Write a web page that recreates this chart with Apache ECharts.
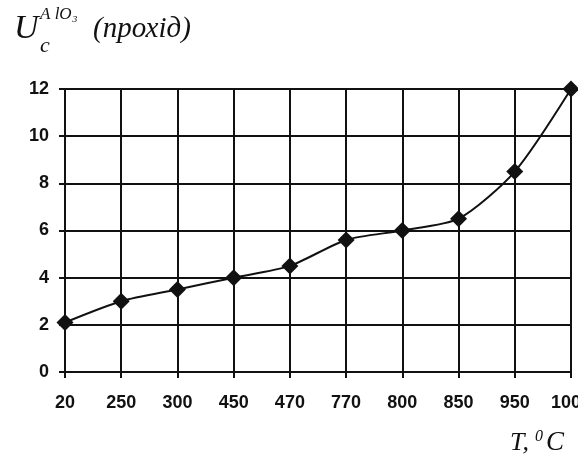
<!DOCTYPE html>
<html lang="uk">
<head>
<meta charset="UTF-8">
<title>Uc AlO3 (прохід)</title>
<script src="https://cdn.jsdelivr.net/npm/echarts@6/dist/echarts.min.js"></script>
<style>
  html, body { margin: 0; padding: 0; background: #fff; }
  #main { width: 578px; height: 462px; }
</style>
</head>
<body>
<div id="main"></div>
<script>
// температура, °C
const temps = ['20', '250', '300', '450', '470', '770', '800', '850', '950', '1000'];
// Uc AlO3 (прохід)
const values = [2.1, 3.0, 3.5, 4.0, 4.5, 5.6, 6.0, 6.5, 8.5, 12.0];
const yTicks = [0, 2, 4, 6, 8, 10, 12];

const ink = '#111';
const serif = '"Liberation Serif", "DejaVu Serif", serif';
const sans = '"Liberation Sans", Arial, sans-serif';

let chart = echarts.init(document.getElementById('main'));

let option = {
  backgroundColor: '#fff',
  animation: false,
  grid: { left: 65, right: 7, top: 89, bottom: 90, outerBoundsMode: 'none', containLabel: false },
  // підпис осі Y: U_c^{AlO3} (прохід), та осі X: T, °C
  graphic: [
    { type: 'text', left: 14, top: 12, style: { text: 'U', font: 'italic 34px ' + serif, fill: ink } },
    { type: 'text', left: 40, top: 6, style: { text: 'A lO₃', font: 'italic 17px ' + serif, fill: ink } },
    { type: 'text', left: 40, top: 35, style: { text: 'c', font: 'italic 22px ' + serif, fill: ink } },
    { type: 'text', left: 93, top: 15, style: { text: '(прохід)', font: 'italic 29px ' + serif, fill: ink } },
    { type: 'text', left: 510, top: 430, style: { text: 'T,', font: 'italic 26px ' + serif, fill: ink } },
    { type: 'text', left: 535, top: 429, style: { text: '0', font: 'italic 16px ' + serif, fill: ink } },
    { type: 'text', left: 546, top: 429, style: { text: 'C', font: 'italic 27px ' + serif, fill: ink } }
  ],
  xAxis: {
    type: 'category',
    data: temps,
    boundaryGap: false,
    axisLine: { lineStyle: { color: ink, width: 2 } },
    axisTick: { show: true, length: 6, inside: false, lineStyle: { color: ink, width: 2 } },
    axisLabel: { color: ink, fontSize: 18, fontWeight: 'bold', fontFamily: sans, margin: 22, interval: 0, hideOverlap: false },
    splitLine: { show: true, lineStyle: { color: ink, width: 2 } }
  },
  yAxis: {
    type: 'value',
    min: yTicks[0],
    max: yTicks[yTicks.length - 1],
    interval: 2,
    axisLine: { show: true, lineStyle: { color: ink, width: 2 } },
    axisTick: { show: true, length: 6, lineStyle: { color: ink, width: 2 } },
    axisLabel: { color: ink, fontSize: 18, fontWeight: 'bold', fontFamily: sans, margin: 16 },
    splitLine: { show: true, lineStyle: { color: ink, width: 2 } }
  },
  series: [{
    type: 'line',
    data: values,
    smooth: 0.25,
    symbol: 'diamond',
    symbolSize: 17,
    clip: false,
    lineStyle: { color: ink, width: 2 },
    itemStyle: { color: ink }
  }]
};

chart.setOption(option);
</script>
</body>
</html>
